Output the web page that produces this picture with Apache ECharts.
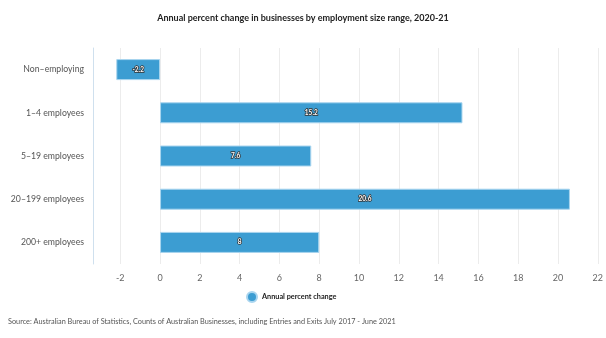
<!DOCTYPE html>
<html><head><meta charset="utf-8">
<script src="https://cdn.jsdelivr.net/npm/echarts@6/dist/echarts.min.js"></script>
<style>html,body{margin:0;padding:0;background:#fff}#c{width:606px;height:338px}</style>
</head><body><div id="c"></div>
<script>
const categories = ["Non\u2013employing", "1\u20134 employees", "5\u201319 employees", "20\u2013199 employees", "200+ employees"];
const values = [-2.2, 15.2, 7.6, 20.6, 8];
const tickValues = [-2, 0, 2, 4, 6, 8, 10, 12, 14, 16, 18, 20, 22];
const seriesName = "Annual percent change";
const titleText = "Annual percent change in businesses by employment size range, 2020-21";
const sourceText = "Source: Australian Bureau of Statistics, Counts of Australian Businesses, including Entries and Exits July 2017 - June 2021";

const font = "Lato, 'Open Sans', sans-serif";
const chart = echarts.init(document.getElementById('c'), null, {renderer: 'canvas'});
chart.setOption({
  animation: false,
  textStyle: {fontFamily: font},
  title: {
    text: titleText, left: 'center', top: 9,
    textStyle: {fontSize: 9, fontWeight: 'bold', color: '#222', fontFamily: font}
  },
  graphic: [{
    type: 'text', left: 8, top: 318,
    style: {text: sourceText, fontSize: 7.3, fill: '#555', fontFamily: font}
  }],
  legend: {
    data: [seriesName], bottom: 30, left: 241, icon: 'circle',
    itemWidth: 10, itemHeight: 10, itemGap: 4,
    textStyle: {fontSize: 7.3, color: '#222', fontWeight: 'bold', fontFamily: font}
  },
  grid: {left: 93, right: 8, top: 48, bottom: 74, containLabel: false},
  xAxis: {
    type: 'value', min: -3.37, max: 22,
    axisLine: {show: false},
    axisTick: {show: false, customValues: tickValues},
    axisLabel: {customValues: tickValues, fontSize: 9, color: '#666', margin: 10, fontFamily: font},
    splitLine: {show: true, lineStyle: {color: '#ececec', width: 1}}
  },
  yAxis: {
    type: 'category', data: categories, inverse: true,
    axisLine: {show: true, onZero: false, lineStyle: {color: '#cfe0ee'}},
    axisTick: {show: false},
    axisLabel: {fontSize: 8.7, color: '#555', margin: 9, fontFamily: font}
  },
  series: [{
    name: seriesName, type: 'bar', data: values, barWidth: 21,
    itemStyle: {color: '#3c9dd2', borderColor: '#a9d5ef', borderWidth: 1},
    label: {
      show: true, position: 'inside', fontSize: 6.5, fontWeight: 'bold',
      color: '#fff', textBorderColor: '#333', textBorderWidth: 1.5, fontFamily: font
    }
  }]
});
</script></body></html>
